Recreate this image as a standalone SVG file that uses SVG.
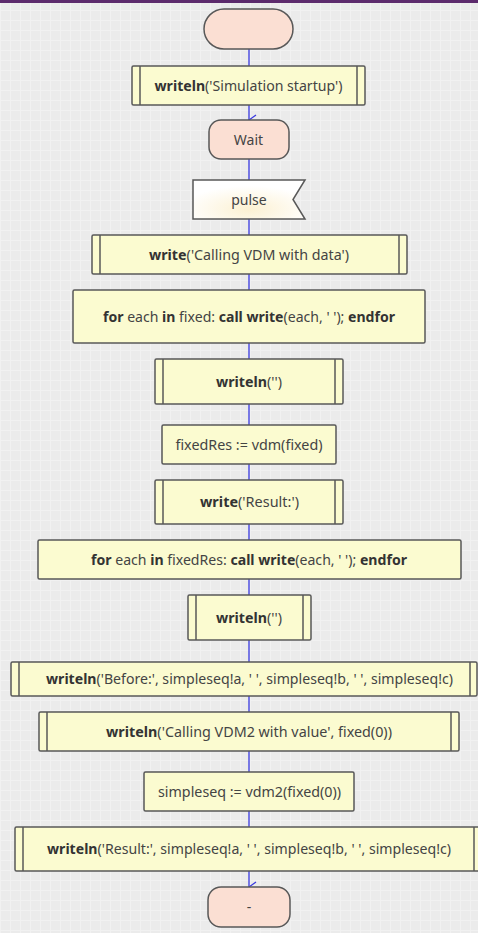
<svg xmlns="http://www.w3.org/2000/svg" width="478" height="933" viewBox="0 0 478 933">
  <defs>
    <pattern id="grid" width="10" height="10" patternUnits="userSpaceOnUse">
      <rect width="10" height="10" fill="#ebebeb"/>
      <path d="M0 0.5H10M0.5 0V10" stroke="#f1f1f1" stroke-width="1" fill="none"/>
    </pattern>
    <radialGradient id="pulseFill" cx="0.5" cy="0.75" r="0.6">
      <stop offset="0" stop-color="#fcf1d2"/>
      <stop offset="1" stop-color="#ffffff"/>
    </radialGradient>
    <marker id="arrow" viewBox="0 0 12 10" refX="6" refY="9" markerWidth="12" markerHeight="10" markerUnits="userSpaceOnUse" orient="auto-start-reverse">
      <path d="M1 2L6 9L11 2" fill="none" stroke="#3a3ae0" stroke-width="1.3"/>
    </marker>
  </defs>
  <style>
    .box { fill: #fbfbd0; stroke: #585858; stroke-width: 1.5; }
    .bar { stroke: #585858; stroke-width: 1.5; }
    .term { fill: #fbdfd3; stroke: #585858; stroke-width: 1.5; }
    .flag { fill: url(#pulseFill); stroke: #585858; stroke-width: 1.5; }
    .lbl { font-family: "Noto Sans", "Open Sans", "DejaVu Sans", sans-serif; font-size: 14px; fill: #444444; text-anchor: middle; }
    .b { font-weight: bold; fill: #333333; }
    .flow { stroke: #3a3ae0; stroke-width: 1.3; fill: none; }
  </style>

  <!-- canvas -->
  <rect width="478" height="933" fill="url(#grid)"/>
  <rect width="478" height="3" fill="#5c2a6c"/>

  <!-- connectors -->
  <g id="connectors">
    <line class="flow" x1="249" y1="49" x2="249" y2="66"/>
    <line class="flow" x1="249" y1="105" x2="249" y2="120" marker-end="url(#arrow)"/>
    <line class="flow" x1="249" y1="159" x2="249" y2="180"/>
    <line class="flow" x1="249" y1="219" x2="249" y2="235"/>
    <line class="flow" x1="249" y1="274" x2="249" y2="290"/>
    <line class="flow" x1="249" y1="343" x2="249" y2="359"/>
    <line class="flow" x1="249" y1="404" x2="249" y2="425"/>
    <line class="flow" x1="249" y1="464" x2="249" y2="480"/>
    <line class="flow" x1="249" y1="524" x2="249" y2="540"/>
    <line class="flow" x1="249" y1="579" x2="249" y2="595"/>
    <line class="flow" x1="249" y1="640" x2="249" y2="662"/>
    <line class="flow" x1="249" y1="696" x2="249" y2="712"/>
    <line class="flow" x1="249" y1="751" x2="249" y2="772"/>
    <line class="flow" x1="249" y1="811" x2="249" y2="827"/>
    <line class="flow" x1="249" y1="871" x2="249" y2="887" marker-end="url(#arrow)"/>
  </g>

  <!-- start -->
  <g id="start">
    <rect class="term" x="204" y="9" width="89" height="40" rx="20"/>
  </g>

  <g id="n_startup">
    <rect class="box" x="132" y="66" width="233" height="39" rx="1.5"/>
    <line class="bar" x1="140" y1="66" x2="140" y2="105"/>
    <line class="bar" x1="357" y1="66" x2="357" y2="105"/>
    <text class="lbl" x="248.5" y="90.5" textLength="188" lengthAdjust="spacingAndGlyphs"><tspan class="b">writeln</tspan>('Simulation startup')</text>
  </g>

  <g id="n_wait">
    <rect class="term" x="209" y="120" width="80" height="39" rx="12"/>
    <text class="lbl" x="248.5" y="144.5">Wait</text>
  </g>

  <g id="n_pulse">
    <polygon class="flag" points="193,180 305,180 293,199.5 305,219 193,219"/>
    <text class="lbl" x="249" y="204.5">pulse</text>
  </g>

  <g id="n_calling">
    <rect class="box" x="92" y="235" width="315" height="39" rx="1.5"/>
    <line class="bar" x1="100" y1="235" x2="100" y2="274"/>
    <line class="bar" x1="399" y1="235" x2="399" y2="274"/>
    <text class="lbl" x="249" y="259.5" textLength="200" lengthAdjust="spacingAndGlyphs"><tspan class="b">write</tspan>('Calling VDM with data')</text>
  </g>

  <g id="n_loop_fixed">
    <rect class="box" x="73" y="290" width="352" height="53" rx="1.5"/>
    <text class="lbl" x="249" y="321.5" textLength="292" lengthAdjust="spacingAndGlyphs"><tspan class="b">for</tspan> each <tspan class="b">in</tspan> fixed: <tspan class="b">call write</tspan>(each, ' '); <tspan class="b">endfor</tspan></text>
  </g>

  <g id="n_newline1">
    <rect class="box" x="155" y="359" width="188" height="45" rx="1.5"/>
    <line class="bar" x1="163" y1="359" x2="163" y2="404"/>
    <line class="bar" x1="335" y1="359" x2="335" y2="404"/>
    <text class="lbl" x="249" y="386.5" textLength="66" lengthAdjust="spacingAndGlyphs"><tspan class="b">writeln</tspan>('')</text>
  </g>

  <g id="n_vdm">
    <rect class="box" x="162" y="425" width="174" height="39" rx="1.5"/>
    <text class="lbl" x="249" y="449.5" textLength="147" lengthAdjust="spacingAndGlyphs">fixedRes := vdm(fixed)</text>
  </g>

  <g id="n_result">
    <rect class="box" x="155" y="480" width="188" height="44" rx="1.5"/>
    <line class="bar" x1="163" y1="480" x2="163" y2="524"/>
    <line class="bar" x1="335" y1="480" x2="335" y2="524"/>
    <text class="lbl" x="249.5" y="507" textLength="99" lengthAdjust="spacingAndGlyphs"><tspan class="b">write</tspan>('Result:')</text>
  </g>

  <g id="n_loop_res">
    <rect class="box" x="38" y="540" width="423" height="39" rx="1.5"/>
    <text class="lbl" x="249" y="564.5" textLength="316" lengthAdjust="spacingAndGlyphs"><tspan class="b">for</tspan> each <tspan class="b">in</tspan> fixedRes: <tspan class="b">call write</tspan>(each, ' '); <tspan class="b">endfor</tspan></text>
  </g>

  <g id="n_newline2">
    <rect class="box" x="188" y="595" width="123" height="45" rx="1.5"/>
    <line class="bar" x1="196" y1="595" x2="196" y2="640"/>
    <line class="bar" x1="303" y1="595" x2="303" y2="640"/>
    <text class="lbl" x="249" y="622.5" textLength="66" lengthAdjust="spacingAndGlyphs"><tspan class="b">writeln</tspan>('')</text>
  </g>

  <g id="n_before">
    <rect class="box" x="11" y="662" width="466" height="34" rx="1.5"/>
    <line class="bar" x1="19" y1="662" x2="19" y2="696"/>
    <line class="bar" x1="470" y1="662" x2="470" y2="696"/>
    <text class="lbl" x="249.5" y="684" textLength="407" lengthAdjust="spacingAndGlyphs"><tspan class="b">writeln</tspan>('Before:', simpleseq!a, ' ', simpleseq!b, ' ', simpleseq!c)</text>
  </g>

  <g id="n_calling2">
    <rect class="box" x="39" y="712" width="420" height="39" rx="1.5"/>
    <line class="bar" x1="47" y1="712" x2="47" y2="751"/>
    <line class="bar" x1="451" y1="712" x2="451" y2="751"/>
    <text class="lbl" x="249" y="736.5" textLength="286" lengthAdjust="spacingAndGlyphs"><tspan class="b">writeln</tspan>('Calling VDM2 with value', fixed(0))</text>
  </g>

  <g id="n_vdm2">
    <rect class="box" x="144" y="772" width="210" height="39" rx="1.5"/>
    <text class="lbl" x="249.5" y="796.5" textLength="183" lengthAdjust="spacingAndGlyphs">simpleseq := vdm2(fixed(0))</text>
  </g>

  <g id="n_result2">
    <rect class="box" x="15" y="827" width="467" height="44" rx="1.5"/>
    <line class="bar" x1="23" y1="827" x2="23" y2="871"/>
    <line class="bar" x1="474" y1="827" x2="474" y2="871"/>
    <text class="lbl" x="249" y="854" textLength="404" lengthAdjust="spacingAndGlyphs"><tspan class="b">writeln</tspan>('Result:', simpleseq!a, ' ', simpleseq!b, ' ', simpleseq!c)</text>
  </g>

  <!-- end -->
  <g id="end">
    <rect class="term" x="208" y="887" width="82" height="40" rx="13"/>
    <text class="lbl" x="249" y="911.5">-</text>
  </g>
</svg>
